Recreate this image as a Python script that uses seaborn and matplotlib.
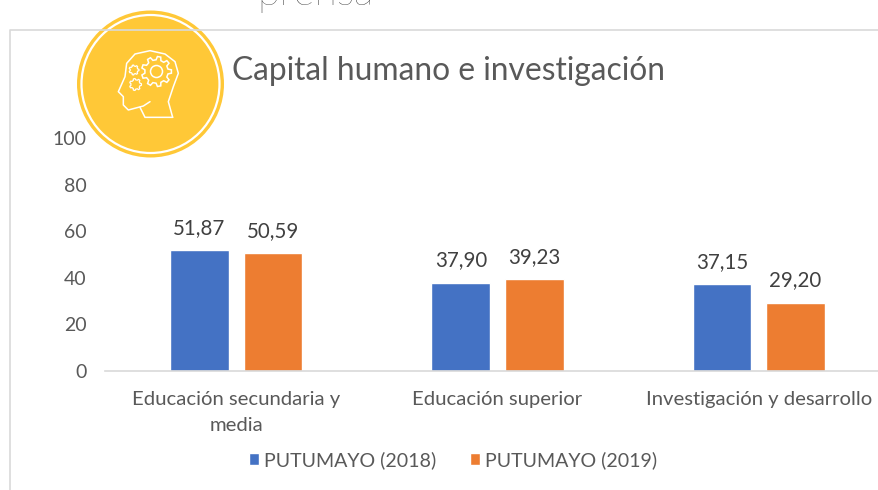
import numpy as np
import pandas as pd
import matplotlib
matplotlib.use('Agg')
import matplotlib.pyplot as plt
from matplotlib.patches import Circle, Polygon
import seaborn as sns

categories = ['Educación secundaria y\nmedia', 'Educación superior', 'Investigación y desarrollo']
values_2018 = [51.87, 37.90, 37.15]
values_2019 = [50.59, 39.23, 29.20]
series_names = ['PUTUMAYO (2018)', 'PUTUMAYO (2019)']
y_ticks = [0, 20, 40, 60, 80, 100]

GREY = '#595959'
YELLOW = '#FFC837'


def gear(ax, cx, cy, r, teeth, lw):
    # outline of a cog, in pixels of the overlay axes
    pts = []
    for i in range(teeth):
        a = 2 * np.pi * i / teeth
        s = 2 * np.pi / teeth
        for da, rr in [(-0.3, r * 0.78), (-0.16, r), (0.16, r), (0.3, r * 0.78)]:
            pts.append((cx + rr * np.cos(a + da * s), cy + rr * np.sin(a + da * s)))
    ax.add_patch(Polygon(pts, closed=True, fill=False, ec='white', lw=lw))


def draw_icon(ax):
    ax.add_patch(Circle((150.5, 84), 73.5, fc=YELLOW, ec='none'))
    ax.add_patch(Circle((150.5, 84), 69, fc='none', ec='white', lw=1.6))
    head = [(218, 262), (205, 215), (220, 170), (235, 130), (225, 95), (195, 72),
            (150, 62), (105, 72), (80, 100), (75, 140), (55, 185), (70, 200),
            (70, 225), (85, 240), (130, 228), (150, 215)]
    neck = [(120, 232), (135, 262), (218, 262)]
    for line in (head, neck):
        xs = [100 + p[0] / 3 for p in line]
        ys = [30 + p[1] / 3 for p in line]
        ax.plot(xs, ys, color='white', lw=1.1, solid_joinstyle='round')
    gear(ax, 156.5, 71.5, 15, 9, 1.1)
    ax.add_patch(Circle((156.5, 71.5), 6, fc='none', ec='white', lw=1.1))
    gear(ax, 134, 70, 5, 7, 0.9)
    gear(ax, 135.5, 84.5, 6, 7, 0.9)


def plot_chart():
    sns.set_theme(style='white')
    plt.rcParams['font.family'] = ['Lato', 'DejaVu Sans']

    df = pd.DataFrame({
        'categoria': categories * 2,
        'valor': values_2018 + values_2019,
        'serie': [series_names[0]] * 3 + [series_names[1]] * 3,
    })

    fig = plt.figure(figsize=(8.79, 4.90), dpi=100)
    ax = fig.add_axes([105.5 / 879, (490 - 370.5) / 490, 784 / 879, 232 / 490])
    sns.barplot(data=df, x='categoria', y='valor', hue='serie',
                palette=['#4472C4', '#ED7D31'], width=0.562, gap=0.2,
                saturation=1, ax=ax)
    ax.set_ylim(0, 100)
    ax.set_yticks(y_ticks)
    ax.set_xlabel('')
    ax.set_ylabel('')
    sns.despine(ax=ax, left=True, top=True, right=True)
    ax.spines['bottom'].set_color('#d9d9d9')
    ax.spines['bottom'].set_linewidth(1.2)
    ax.tick_params(axis='y', length=0, labelsize=14, labelcolor=GREY, pad=13.5)
    ax.tick_params(axis='x', length=0, labelsize=14.6, labelcolor=GREY, pad=15)
    for t in ax.get_xticklabels():
        t.set_linespacing(1.65)

    for cont in ax.containers:
        labels = [f'{v:.2f}'.replace('.', ',') for v in cont.datavalues]
        ax.bar_label(cont, labels=labels, padding=9, fontsize=14.8, color='#404040')

    ax.legend(loc='center', bbox_to_anchor=(453 / 879, 30 / 490),
              bbox_transform=fig.transFigure, ncol=2, frameon=False,
              fontsize=14.1, labelcolor=GREY, handlelength=0.55, handleheight=0.55,
              handletextpad=0.25, columnspacing=1.7)

    # overlay in image pixels: frame, badge, title and the cut off word above
    over = fig.add_axes([0, 0, 1, 1], zorder=5)
    over.set_xlim(0, 879)
    over.set_ylim(490, 0)
    over.axis('off')
    over.patch.set_alpha(0)
    over.plot([10.5, 10.5, 879], [490, 30, 30], color='#d9d9d9', lw=1.2)
    draw_icon(over)
    over.text(232, 71, 'Capital humano e investigación', fontsize=22.9, color=GREY,
              va='center', ha='left')
    over.text(257, 5, 'prensa', fontsize=29.5, color='#262626', va='baseline', ha='left',
              fontweight='light')

    fig.savefig('out.png', dpi=100, facecolor='white')


if __name__ == "__main__":
    plot_chart()
